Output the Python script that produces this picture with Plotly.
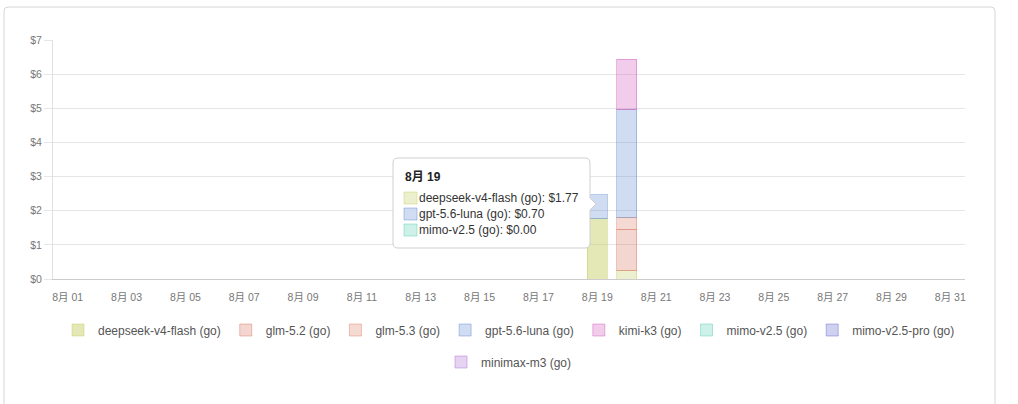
import plotly.graph_objects as go

# ---------------- data ----------------
days = [f"8月 {d:02d}" for d in range(1, 32)]
tick_days = days[::2]
active_days = ["8月 19", "8月 20"]

series_names = [
    "deepseek-v4-flash (go)", "glm-5.2 (go)", "glm-5.3 (go)", "gpt-5.6-luna (go)",
    "kimi-k3 (go)", "mimo-v2.5 (go)", "mimo-v2.5-pro (go)", "minimax-m3 (go)",
]
deepseek_v4_flash = [1.77, 0.24]
glm_5_2 = [None, 1.22]
glm_5_3 = [None, 0.35]
gpt_5_6_luna = [0.70, 3.14]
kimi_k3 = [None, 1.48]
mimo_v2_5 = [0.00, None]
mimo_v2_5_pro = [None, None]
minimax_m3 = [None, None]
series_values = [deepseek_v4_flash, glm_5_2, glm_5_3, gpt_5_6_luna,
                 kimi_k3, mimo_v2_5, mimo_v2_5_pro, minimax_m3]
hover_day = "8月 19"

# ---------------- styles ----------------
base_rgb = [
    (195, 205, 95), (220, 120, 100), (222, 128, 108), (100, 140, 210),
    (210, 90, 190), (90, 205, 180), (100, 100, 205), (170, 110, 210),
]
def rgba(c, a):
    return f"rgba({c[0]},{c[1]},{c[2]},{a})"

W, H = 1018, 404
L, R, T, B = 53, 965, 40, 279
PW, PH = R - L, B - T
def px(x):
    return (x - L) / PW
def py(y):
    return (B - y) / PH

FONT = "Liberation Sans, Arial, Noto Sans CJK SC, sans-serif"

fig = go.Figure()
for i, (name, vals) in enumerate(zip(series_names, series_values)):
    c = base_rgb[i]
    fills = [rgba(c, 0.45 if (i == 0 and d == hover_day) else 0.3) for d in active_days]
    shown = [v if v else None for v in vals]  # zero-height bars are not drawn
    fig.add_trace(go.Bar(
        x=active_days, y=shown, name=name,
        marker=dict(color=fills, line=dict(color=rgba(c, 0.45), width=1)),
        legend="legend" if i < 7 else "legend2",
        hoverinfo="skip",
    ))

shapes = []
annotations = []

# card border
cx0, cy0, cx1, cy1, r = 4, 7, 995, 420, 4
card = (f"M {px(cx0+r)},{py(cy0)} L {px(cx1-r)},{py(cy0)} "
        f"Q {px(cx1)},{py(cy0)} {px(cx1)},{py(cy0+r)} L {px(cx1)},{py(cy1)} "
        f"L {px(cx0)},{py(cy1)} L {px(cx0)},{py(cy0+r)} "
        f"Q {px(cx0)},{py(cy0)} {px(cx0+r)},{py(cy0)} Z")
shapes.append(dict(type="path", xref="paper", yref="paper", path=card,
                   line=dict(color="#d6d6d6", width=1), fillcolor="rgba(0,0,0,0)",
                   layer="below"))

# tooltip box with caret
tx0, ty0, tx1, ty1, tr = 393, 158, 590, 248, 5
caret_y = 204
tip = (f"M {px(tx0+tr)},{py(ty0)} L {px(tx1-tr)},{py(ty0)} "
       f"Q {px(tx1)},{py(ty0)} {px(tx1)},{py(ty0+tr)} "
       f"L {px(tx1)},{py(caret_y-6)} L {px(tx1+6)},{py(caret_y)} L {px(tx1)},{py(caret_y+6)} "
       f"L {px(tx1)},{py(ty1-tr)} Q {px(tx1)},{py(ty1)} {px(tx1-tr)},{py(ty1)} "
       f"L {px(tx0+tr)},{py(ty1)} Q {px(tx0)},{py(ty1)} {px(tx0)},{py(ty1-tr)} "
       f"L {px(tx0)},{py(ty0+tr)} Q {px(tx0)},{py(ty0)} {px(tx0+tr)},{py(ty0)} Z")
shapes.append(dict(type="path", xref="paper", yref="paper", path=tip,
                   line=dict(color="#cfcfcf", width=1), fillcolor="white", layer="above"))

annotations.append(dict(xref="paper", yref="paper", x=px(403), y=py(177),
                        xanchor="left", yanchor="middle", showarrow=False,
                        text=f"<b>{hover_day}</b>",
                        font=dict(family=FONT, size=12, color="#222")))
hi = active_days.index(hover_day)
row = 0
for i, (name, vals) in enumerate(zip(series_names, series_values)):
    v = vals[hi]
    if v is None:
        continue
    yc = 198 + 16 * row
    c = base_rgb[i]
    shapes.append(dict(type="rect", xref="paper", yref="paper",
                       x0=px(404), x1=px(417), y0=py(yc - 6), y1=py(yc + 6),
                       fillcolor=rgba(c, 0.3), line=dict(color=rgba(c, 0.45), width=1),
                       layer="above"))
    annotations.append(dict(xref="paper", yref="paper", x=px(417), y=py(yc),
                            xanchor="left", yanchor="middle", showarrow=False,
                            text=f"{name}: ${v:.2f}",
                            font=dict(family=FONT, size=12, color="#333")))
    row += 1

legend_common = dict(orientation="h", x=0.5, xanchor="center", yanchor="middle",
                     traceorder="normal",
                     font=dict(family=FONT, size=12, color="#555"),
                     bgcolor="rgba(0,0,0,0)", itemclick=False, itemdoubleclick=False)

fig.update_layout(
    width=W, height=H,
    margin=dict(l=L, r=W - R, t=T, b=H - B, pad=0),
    paper_bgcolor="white", plot_bgcolor="white",
    barmode="stack", bargap=0.32,
    font=dict(family=FONT, size=11, color="#666"),
    xaxis=dict(type="category", categoryorder="array", categoryarray=days,
               range=[-0.5, 30.5], tickmode="array", tickvals=tick_days,
               ticktext=tick_days, showgrid=False, showline=True,
               linecolor="#cccccc", linewidth=1, ticks="outside", ticklen=8,
               tickcolor="rgba(0,0,0,0)", tickfont=dict(size=10.5, color="#777"),
               zeroline=False, fixedrange=True),
    yaxis=dict(range=[0, 7], dtick=1, tickprefix="$", showgrid=True,
               gridcolor="#e6e6e6", gridwidth=1, showline=True,
               linecolor="#e0e0e0", linewidth=1, ticks="outside", ticklen=8,
               tickcolor="#e6e6e6", tickfont=dict(size=10.5, color="#777"),
               zeroline=False, fixedrange=True),
    legend=dict(y=py(330), **legend_common),
    legend2=dict(y=py(362), **legend_common),
    shapes=shapes, annotations=annotations,
    showlegend=True,
)

fig.write_html(
    "out.html",
    config=dict(displayModeBar=False),
    post_script="document.body.style.margin='0';document.body.style.overflow='hidden';",
)
